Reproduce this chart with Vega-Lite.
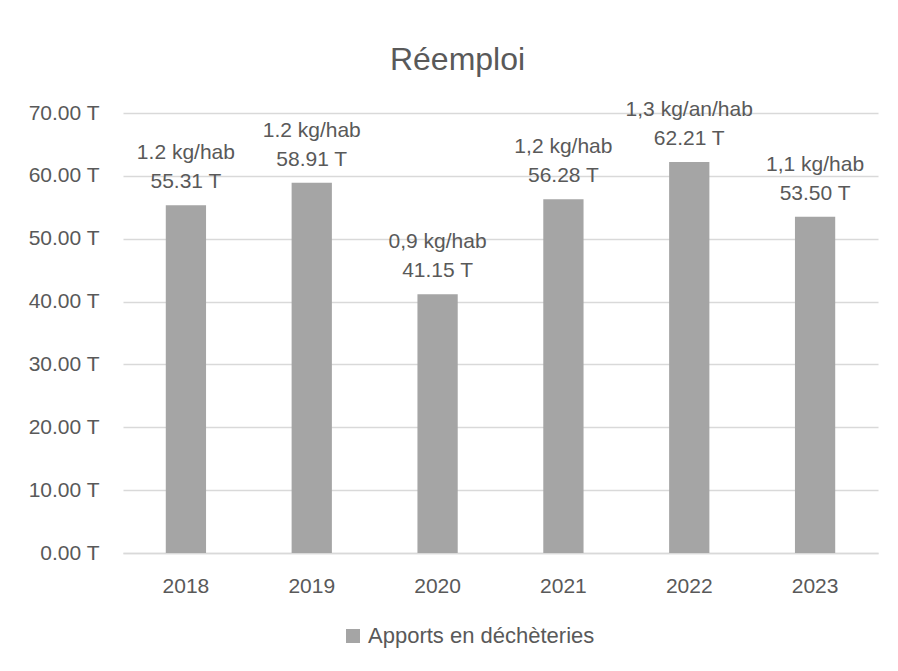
{
  "$schema": "https://vega.github.io/schema/vega-lite/v6.json",
  "width": 755,
  "height": 440,
  "autosize": "none",
  "padding": {"left": 123, "top": 113, "right": 20, "bottom": 118},
  "background": "white",
  "title": {
    "text": "Réemploi",
    "fontSize": 32,
    "font": "Liberation Sans",
    "fontWeight": "normal",
    "color": "#595959",
    "anchor": "middle",
    "frame": "group",
    "dx": -43,
    "offset": 22
  },
  "data": {
    "values": [
      {"year": "2018", "value": 55.31, "label": "1.2 kg/hab\n55.31 T", "series": "Apports en déchèteries"},
      {"year": "2019", "value": 58.91, "label": "1.2 kg/hab\n58.91 T", "series": "Apports en déchèteries"},
      {"year": "2020", "value": 41.15, "label": "0,9 kg/hab\n41.15 T", "series": "Apports en déchèteries"},
      {"year": "2021", "value": 56.28, "label": "1,2 kg/hab\n56.28 T", "series": "Apports en déchèteries"},
      {"year": "2022", "value": 62.21, "label": "1,3 kg/an/hab\n62.21 T", "series": "Apports en déchèteries"},
      {"year": "2023", "value": 53.50, "label": "1,1 kg/hab\n53.50 T", "series": "Apports en déchèteries"}
    ]
  },
  "encoding": {
    "x": {
      "field": "year",
      "type": "nominal",
      "title": null,
      "scale": {"paddingInner": 0.68, "paddingOuter": 0.34},
      "axis": {
        "labelAngle": 0,
        "ticks": false,
        "tickSize": 0,
        "labelPadding": 22,
        "labelFontSize": 21,
        "labelFont": "Liberation Sans",
        "labelColor": "#595959",
        "domainColor": "#D9D9D9",
        "domainWidth": 1.5,
        "grid": false
      }
    },
    "y": {
      "field": "value",
      "type": "quantitative",
      "title": null,
      "scale": {"domain": [0, 70]},
      "axis": {
        "values": [0, 10, 20, 30, 40, 50, 60, 70],
        "labelExpr": "format(datum.value, '.2f') + ' T'",
        "domain": false,
        "ticks": false,
        "tickSize": 0,
        "labelPadding": 24,
        "labelFontSize": 21,
        "labelFont": "Liberation Sans",
        "labelColor": "#595959",
        "gridColor": "#D9D9D9",
        "gridWidth": 1.5
      }
    }
  },
  "layer": [
    {
      "mark": {"type": "bar"},
      "encoding": {
        "color": {
          "field": "series",
          "type": "nominal",
          "scale": {"range": ["#A5A5A5"]},
          "legend": {
            "title": null,
            "orient": "none",
            "legendX": 219,
            "legendY": 512,
            "padding": 0,
            "symbolType": "square",
            "symbolSize": 196,
            "symbolStrokeWidth": 0,
            "labelFontSize": 22,
            "labelFont": "Liberation Sans",
            "labelColor": "#595959",
            "labelOffset": 4,
            "labelLimit": 500
          }
        }
      }
    },
    {
      "mark": {
        "type": "text",
        "baseline": "bottom",
        "dy": -42,
        "lineBreak": "\n",
        "lineHeight": 29,
        "fontSize": 21,
        "font": "Liberation Sans",
        "color": "#595959"
      },
      "encoding": {
        "text": {"field": "label"}
      }
    }
  ],
  "config": {
    "view": {"stroke": null}
  }
}
